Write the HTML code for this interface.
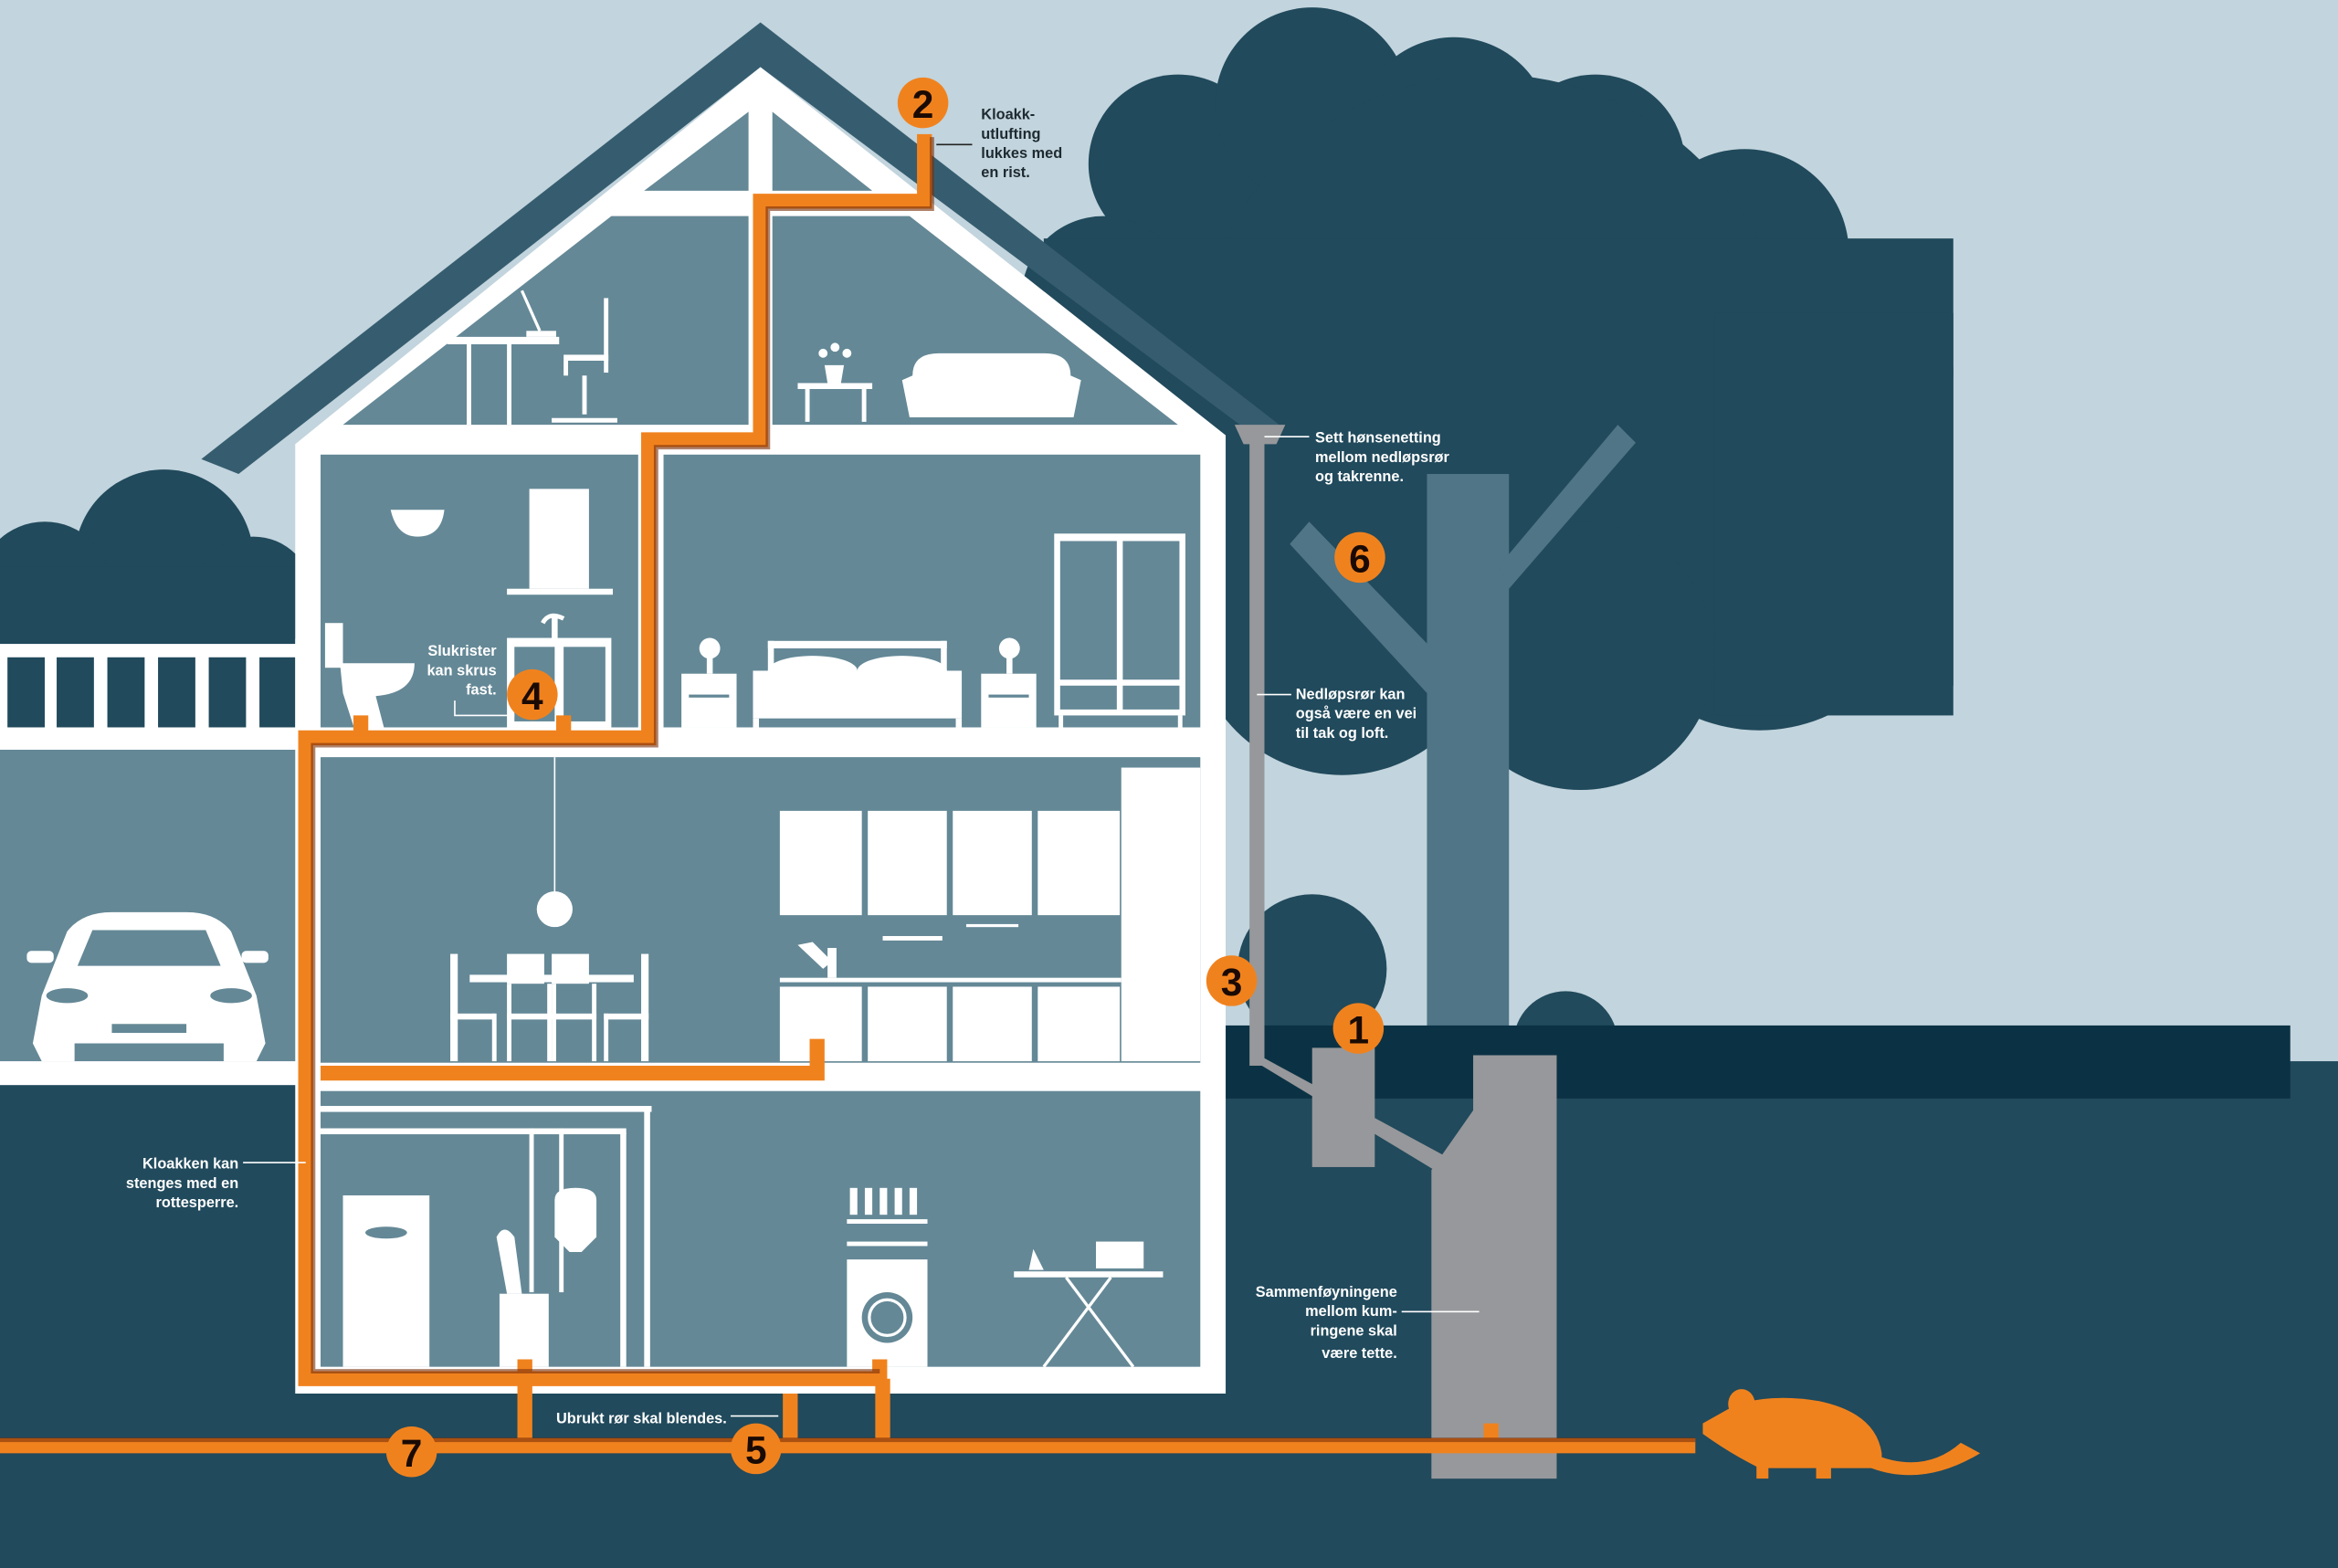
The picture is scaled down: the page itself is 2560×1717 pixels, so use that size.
<!DOCTYPE html>
<html><head><meta charset="utf-8"><style>
html,body{margin:0;padding:0;background:#c2d4dd}
svg{display:block}
text{font-family:"Liberation Sans",sans-serif;font-weight:bold}
</style></head><body>
<svg width="2560" height="1717" viewBox="0 0 1568 1052" preserveAspectRatio="none" xmlns="http://www.w3.org/2000/svg">
<rect width="1568" height="1052" fill="#c2d4dd"/>
<!-- tree canopy -->
<g fill="#214a5c">
<circle cx="790" cy="110" r="60"/><circle cx="880" cy="70" r="65"/><circle cx="975" cy="90" r="65"/>
<circle cx="1070" cy="110" r="60"/><circle cx="1170" cy="170" r="70"/><circle cx="1250" cy="250" r="60"/>
<circle cx="740" cy="200" r="55"/><circle cx="1000" cy="250" r="200"/><circle cx="1180" cy="380" r="110"/>
<rect x="700" y="160" width="610" height="300"/><circle cx="900" cy="420" r="100"/><circle cx="1060" cy="440" r="90"/>
<rect x="1150" y="210" width="160" height="270"/>
<circle cx="880" cy="650" r="50"/><circle cx="1050" cy="700" r="35"/>
<circle cx="110" cy="375" r="60"/><circle cx="30" cy="395" r="45"/><circle cx="170" cy="400" r="40"/><rect x="0" y="380" width="198" height="60"/>
</g>
<!-- trunk -->
<g fill="#4f7586">
<rect x="957" y="318" width="55" height="372"/>
<polygon points="865,365 878,350 965,440 957,465"/>
<polygon points="1005,380 1085,285 1097,297 1012,395"/>
</g>
<!-- ground -->
<rect x="0" y="712" width="1568" height="340" fill="#214a5c"/>
<rect x="820" y="688" width="716" height="49" fill="#0b3244"/>
<!-- left yard -->
<rect x="0" y="503" width="200" height="210" fill="#648896"/>
<rect x="0" y="712" width="200" height="16" fill="#fff"/>
<rect x="0" y="432" width="200" height="71" fill="#fff"/>
<g fill="#214a5c">
<rect x="5" y="441" width="25" height="47"/><rect x="38" y="441" width="25" height="47"/><rect x="72" y="441" width="25" height="47"/><rect x="106" y="441" width="25" height="47"/><rect x="140" y="441" width="25" height="47"/><rect x="174" y="441" width="24" height="47"/>
</g>
<!-- car -->
<g fill="#fff">
<path d="M28,668 L45,625 Q55,612 75,612 L125,612 Q145,612 155,625 L172,668 L178,700 L172,712 L150,712 L150,700 L50,700 L50,712 L28,712 L22,700 Z"/>
<rect x="18" y="638" width="18" height="8" rx="3"/><rect x="162" y="638" width="18" height="8" rx="3"/>
</g>
<path d="M52,648 L62,624 L138,624 L148,648 Z" fill="#648896"/>
<ellipse cx="45" cy="668" rx="14" ry="5" fill="#648896"/><ellipse cx="155" cy="668" rx="14" ry="5" fill="#648896"/>
<rect x="75" y="687" width="50" height="6" fill="#648896"/>
<!-- roof -->
<polygon points="510,15 858,285 845,295 510,45 160,318 135,308" fill="#365d6f"/>
<polygon points="510,45 822,292 822,935 198,935 198,298" fill="#fff"/>
<g fill="#648896">
<polygon points="230,285 410,145 502,145 502,285"/>
<polygon points="432,128 502,75 502,128"/>
<polygon points="518,75 585,128 518,128"/>
<polygon points="518,145 610,145 790,285 518,285"/>
<rect x="215" y="305" width="213" height="183"/>
<rect x="445" y="305" width="360" height="183"/>
<rect x="215" y="508" width="590" height="205"/>
<rect x="215" y="732" width="590" height="185"/>
</g>
<!-- attic furniture -->
<g fill="#fff" stroke="#fff">
<rect x="300" y="226" width="75" height="5" stroke="none"/><rect x="313" y="231" width="3" height="54" stroke="none"/><rect x="340" y="231" width="3" height="54" stroke="none"/>
<line x1="350" y1="195" x2="362" y2="222" stroke-width="2"/><rect x="353" y="222" width="20" height="4" stroke="none"/>
<rect x="405" y="200" width="3" height="50" stroke="none"/><rect x="378" y="238" width="30" height="4" stroke="none"/><rect x="378" y="242" width="3" height="10" stroke="none"/>
<line x1="392" y1="252" x2="392" y2="278" stroke-width="3"/><line x1="370" y1="282" x2="414" y2="282" stroke-width="3"/>
<rect x="535" y="257" width="50" height="4" stroke="none"/><rect x="540" y="261" width="3" height="22" stroke="none"/><rect x="578" y="261" width="3" height="22" stroke="none"/>
<path d="M555,257 L553,245 L566,245 L564,257 Z" stroke="none"/><circle cx="552" cy="237" r="3" stroke="none"/><circle cx="560" cy="233" r="3" stroke="none"/><circle cx="568" cy="237" r="3" stroke="none"/>
<path d="M612,252 Q612,237 630,237 L700,237 Q718,237 718,252 L725,255 L720,280 L610,280 L605,255 Z" stroke="none"/>
</g>
<!-- bathroom -->
<g fill="#fff">
<path d="M262,342 L298,342 Q296,360 280,360 Q266,360 262,342 Z"/>
<rect x="355" y="328" width="40" height="67"/><rect x="340" y="395" width="71" height="4"/>
<rect x="218" y="418" width="12" height="30"/><path d="M228,445 L278,445 Q278,465 252,467 L258,490 L238,490 L230,465 Z"/>
<rect x="340" y="428" width="70" height="60"/>
<rect x="370" y="414" width="4" height="16"/><path d="M364,418 Q368,410 378,415" stroke="#fff" stroke-width="3" fill="none"/>
</g>
<rect x="345" y="434" width="27" height="50" fill="#648896"/><rect x="378" y="434" width="28" height="50" fill="#648896"/>
<!-- bedroom -->
<g fill="#fff">
<rect x="515" y="430" width="120" height="5"/><rect x="515" y="430" width="4" height="20"/><rect x="631" y="430" width="4" height="20"/>
<rect x="505" y="450" width="140" height="32"/><rect x="505" y="482" width="4" height="6"/><rect x="641" y="482" width="4" height="6"/>
<ellipse cx="545" cy="450" rx="30" ry="10"/><ellipse cx="605" cy="450" rx="30" ry="10"/>
<rect x="457" y="452" width="37" height="36"/><rect x="658" y="452" width="37" height="36"/>
<circle cx="476" cy="435" r="7"/><rect x="474" y="440" width="4" height="12"/>
<circle cx="677" cy="435" r="7"/><rect x="675" y="440" width="4" height="12"/>
<rect x="707" y="358" width="88" height="122"/><rect x="710" y="480" width="3" height="8"/><rect x="790" y="480" width="3" height="8"/>
</g>
<g fill="#648896"><rect x="711" y="363" width="38" height="93"/><rect x="753" y="363" width="38" height="93"/><rect x="711" y="460" width="38" height="16"/><rect x="753" y="460" width="38" height="16"/>
<rect x="462" y="466" width="27" height="2"/><rect x="663" y="466" width="27" height="2"/></g>
<!-- kitchen / dining -->
<g fill="#fff">
<line x1="372" y1="508" x2="372" y2="600" stroke="#fff" stroke-width="1"/><circle cx="372" cy="610" r="12"/>
<rect x="315" y="654" width="110" height="5"/>
<rect x="302" y="640" width="5" height="72"/><rect x="302" y="680" width="30" height="4"/><rect x="330" y="680" width="3" height="32"/>
<rect x="340" y="640" width="25" height="20"/><rect x="340" y="680" width="30" height="4"/><rect x="340" y="660" width="3" height="52"/><rect x="367" y="660" width="3" height="52"/>
<rect x="370" y="640" width="25" height="20"/><rect x="370" y="680" width="30" height="4"/><rect x="370" y="660" width="3" height="52"/><rect x="397" y="660" width="3" height="52"/>
<rect x="430" y="640" width="5" height="72"/><rect x="405" y="680" width="30" height="4"/><rect x="405" y="680" width="3" height="32"/>
<rect x="752" y="515" width="53" height="197"/>
<rect x="523" y="544" width="55" height="70"/><rect x="582" y="544" width="53" height="70"/><rect x="639" y="544" width="53" height="70"/><rect x="696" y="544" width="55" height="70"/>
<rect x="523" y="656" width="229" height="3"/>
<rect x="523" y="662" width="55" height="50"/><rect x="582" y="662" width="53" height="50"/><rect x="639" y="662" width="53" height="50"/><rect x="696" y="662" width="55" height="50"/>
<rect x="555" y="636" width="6" height="20"/><path d="M535,634 L545,632 L558,645 L552,650 Z"/>
<rect x="592" y="628" width="40" height="3"/><rect x="648" y="620" width="35" height="2"/>
</g>
<!-- basement -->
<g fill="#fff">
<rect x="215" y="742" width="222" height="4"/><rect x="215" y="757" width="205" height="4"/>
<rect x="432" y="745" width="4" height="172"/><rect x="416" y="760" width="4" height="157"/>
<rect x="355" y="757" width="3" height="110"/><rect x="375" y="757" width="3" height="110"/>
<rect x="230" y="802" width="58" height="115"/>
<rect x="335" y="868" width="33" height="49"/><path d="M333,830 Q338,820 345,830 L350,868 L340,868 Z"/>
<path d="M372,805 Q372,797 386,797 Q400,797 400,805 L400,830 L390,840 L382,840 L372,830 Z"/>
<rect x="568" y="845" width="54" height="72"/><rect x="568" y="818" width="54" height="3"/><rect x="568" y="833" width="54" height="3"/>
<rect x="570" y="797" width="5" height="18"/><rect x="580" y="797" width="5" height="18"/><rect x="590" y="797" width="5" height="18"/><rect x="600" y="797" width="5" height="18"/><rect x="610" y="797" width="5" height="18"/>
<rect x="680" y="853" width="100" height="4"/><rect x="735" y="833" width="32" height="18"/>
<path d="M690,852 L693,838 L700,852 Z"/>
</g>
<circle cx="595" cy="884" r="17" fill="#648896"/><circle cx="595" cy="884" r="12" fill="none" stroke="#fff" stroke-width="2"/>
<ellipse cx="259" cy="827" rx="14" ry="4" fill="#648896"/>
<line x1="700" y1="917" x2="745" y2="857" stroke="#fff" stroke-width="2"/><line x1="715" y1="857" x2="760" y2="917" stroke="#fff" stroke-width="2"/>
<!-- grey downpipe & manholes -->
<g fill="#97989b">
<path d="M828,285 L862,285 L856,298 L834,298 Z"/>
<rect x="838" y="295" width="10" height="420"/>
<polygon points="838,710 848,710 968,775 962,785"/>
<rect x="880" y="703" width="42" height="80"/>
<path d="M988,708 L1044,708 L1044,992 L960,992 L960,785 L988,745 Z"/>
</g>
<!-- orange pipes -->
<g fill="none" stroke="#f0821e" stroke-width="10" stroke-linejoin="miter">
<polyline points="620,90 620,135 510,135 510,295 435,295 435,495 205,495 205,925 590,925 590,912"/>
<polyline points="242,480 242,495"/><polyline points="378,480 378,495"/>
<polyline points="548,697 548,720 215,720"/>
<polyline points="352,912 352,970"/><polyline points="530,935 530,970"/><polyline points="592,925 592,970"/>
<polyline points="0,970 1137,970"/><polyline points="1000,955 1000,970"/>
</g>
<g fill="none" stroke="#7a2e0a" stroke-width="3" opacity="0.6">
<polyline points="625,92 625,140 515,140 515,300 440,300 440,500 210,500 210,920 590,920"/>
<line x1="0" y1="966" x2="1137" y2="966"/>
</g>
<!-- rat -->
<g fill="#f0821e">
<path d="M1142,955 L1165,942 Q1190,935 1220,940 Q1258,948 1262,975 L1262,985 L1180,985 Q1160,975 1142,962 Z"/>
<ellipse cx="1168" cy="942" rx="9" ry="10"/>
<rect x="1178" y="978" width="8" height="14"/><rect x="1218" y="978" width="10" height="14"/>
<path d="M1255,975 Q1290,990 1315,968 L1328,975 Q1290,998 1255,985 Z"/>
</g>
<!-- number badges -->
<g fill="#f0821e">
<circle cx="619" cy="69" r="17"/><circle cx="912" cy="374" r="17"/><circle cx="826" cy="658" r="17"/>
<circle cx="911" cy="690" r="17"/><circle cx="357" cy="466" r="17"/><circle cx="507" cy="972" r="17"/><circle cx="276" cy="974" r="17"/>
</g>
<g font-size="26" fill="#1a0a04" text-anchor="middle">
<text x="619" y="79">2</text><text x="912" y="384">6</text><text x="826" y="668">3</text>
<text x="911" y="700">1</text><text x="357" y="476">4</text><text x="507" y="982">5</text><text x="276" y="984">7</text>
</g>
<g stroke="#222" stroke-width="1"><line x1="628" y1="97" x2="652" y2="97"/></g>
<g stroke="#fff" stroke-width="1">
<line x1="848" y1="293" x2="878" y2="293"/><line x1="843" y1="466" x2="866" y2="466"/>
<line x1="163" y1="780" x2="205" y2="780"/><line x1="940" y1="880" x2="992" y2="880"/>
<line x1="490" y1="950" x2="522" y2="950"/><polyline points="305,470 305,480 345,480" fill="none"/>
</g>
<g font-size="10" fill="#1e2a30">
<text x="658" y="80">Kloakk-</text><text x="658" y="93">utlufting</text><text x="658" y="106">lukkes med</text><text x="658" y="119">en rist.</text>
</g>
<g font-size="10" fill="#fff">
<text x="882" y="297">Sett hønsenetting</text><text x="882" y="310">mellom nedløpsrør</text><text x="882" y="323">og takrenne.</text>
<text x="869" y="469">Nedløpsrør kan</text><text x="869" y="482">også være en vei</text><text x="869" y="495">til tak og loft.</text>
<g text-anchor="end">
<text x="333" y="440">Slukrister</text><text x="333" y="453">kan skrus</text><text x="333" y="466">fast.</text>
<text x="160" y="784">Kloakken kan</text><text x="160" y="797">stenges med en</text><text x="160" y="810">rottesperre.</text>
<text x="937" y="870">Sammenføyningene</text><text x="937" y="883">mellom kum-</text><text x="937" y="896">ringene skal</text><text x="937" y="911">være tette.</text>
</g>
<text x="373" y="955">Ubrukt rør skal blendes.</text>
</g>
</svg>
</body></html>
